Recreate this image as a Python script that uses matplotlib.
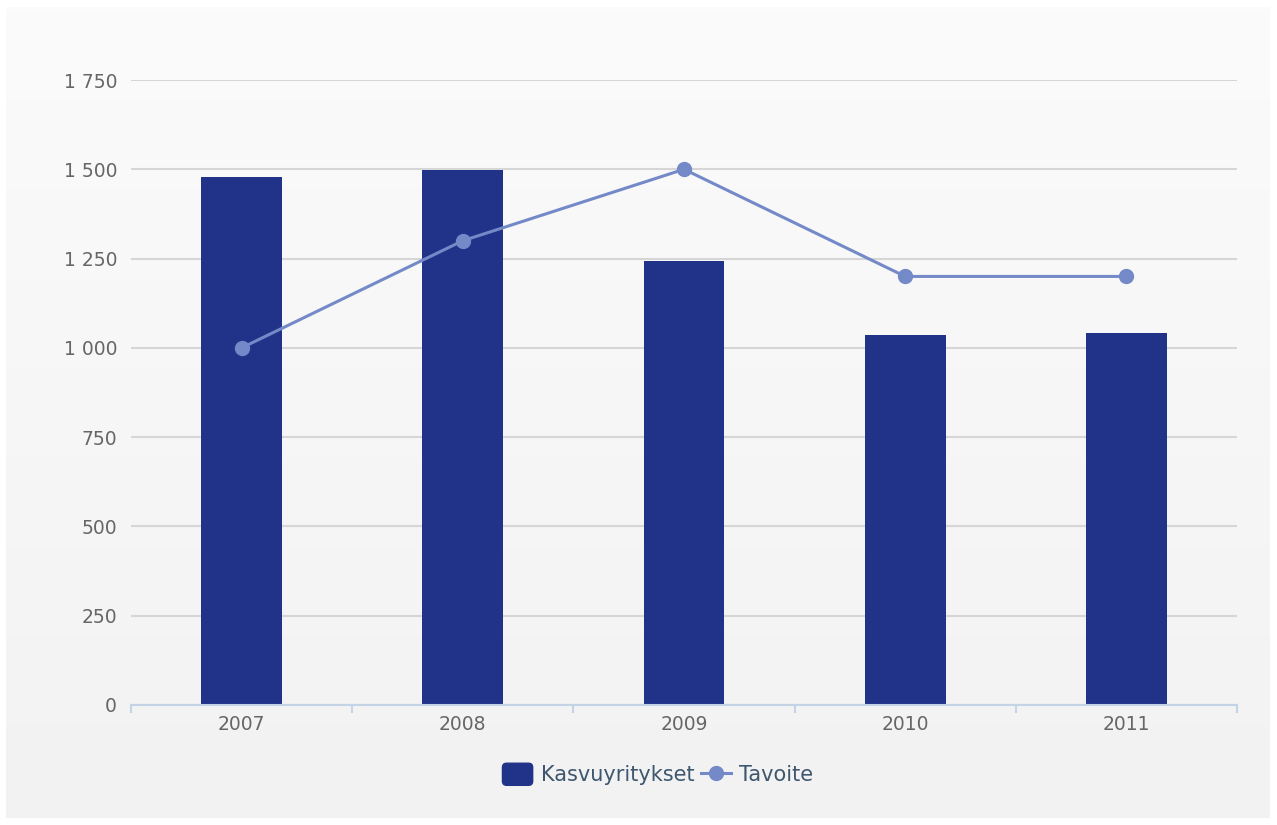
import numpy as np
import matplotlib
matplotlib.use("Agg")
import matplotlib.pyplot as plt
from matplotlib.lines import Line2D
from matplotlib.patches import Patch, FancyBboxPatch
from matplotlib.legend_handler import HandlerPatch
from matplotlib.ticker import FuncFormatter

years = ["2007", "2008", "2009", "2010", "2011"]
kasvu = [1478, 1498, 1243, 1037, 1042]
tavoite = [1000, 1300, 1500, 1200, 1200]

bar_col = "#213289"
line_col = "#7489c8"
grid_col = "#d6d6d6"
axis_col = "#c4d3e5"
txt_col = "#666666"

plt.rcParams['font.family'] = ['DejaVu Sans']

fig = plt.figure(figsize=(12.77, 8.25), dpi=100)
fig.patch.set_facecolor("white")

# gradient background panel
bg = fig.add_axes([6/1277, 7/825, 1264/1277, 811/825])
grad = np.linspace(0, 1, 256).reshape(-1, 1)
bg.imshow(grad, aspect="auto", cmap=matplotlib.colors.LinearSegmentedColormap.from_list(
    "g", ["#fbfbfb", "#f2f2f2"]), extent=[0, 1, 0, 1], origin="upper")
bg.axis("off")

ax = fig.add_axes([131/1277, 120/825, 1106/1277, 625/825])
ax.set_facecolor("none")

x = np.arange(len(years))
ax.bar(x, kasvu, width=0.365, color=bar_col, zorder=3)
ax.plot(x, tavoite, color=line_col, lw=2.2, marker="o", ms=10, zorder=4)

ax.set_xlim(-0.5, len(years) - 0.5)
ax.set_ylim(0, 1750)
ax.set_yticks(np.arange(0, 1751, 250))
ax.yaxis.set_major_formatter(FuncFormatter(lambda v, p: f"{int(v):,}".replace(",", " ")))
ax.grid(axis="y", color=grid_col, lw=1.5, zorder=0)
ax.set_axisbelow(True)

for s in ["top", "right", "left"]:
    ax.spines[s].set_visible(False)
ax.spines["bottom"].set_color(axis_col)
ax.spines["bottom"].set_linewidth(1.5)
ax.spines["bottom"].set_zorder(5)

ax.set_xticks(x)
ax.set_xticklabels(years)
ax.set_xticks(np.arange(-0.5, len(years)), minor=True)
ax.tick_params(axis="x", which="major", length=0, pad=7, labelsize=13.5, labelcolor=txt_col)
ax.tick_params(axis="x", which="minor", length=6, width=1.5, color=axis_col)
ax.tick_params(axis="y", length=0, pad=10, labelsize=13.5, labelcolor=txt_col)


def rounded_box(legend, orig_handle, xdescent, ydescent, width, height, fontsize):
    return FancyBboxPatch((-xdescent, -ydescent - 1), width, height + 2,
                          boxstyle="round,pad=0,rounding_size=3")


handles = [
    Patch(color=bar_col),
    Line2D([], [], marker="o", color=line_col, lw=2.2, ms=10),
]
leg = fig.legend(handles, ["Kasvuyritykset", "Tavoite"], loc="center",
                 bbox_to_anchor=(658/1277, 1 - 775/825), ncol=2, frameon=False,
                 fontsize=15, handlelength=1.45, handleheight=1.05,
                 handletextpad=0.4, columnspacing=0.3,
                 handler_map={Patch: HandlerPatch(patch_func=rounded_box)})
for t in leg.get_texts():
    t.set_color("#3e576f")

fig.savefig("out.png", dpi=100)
